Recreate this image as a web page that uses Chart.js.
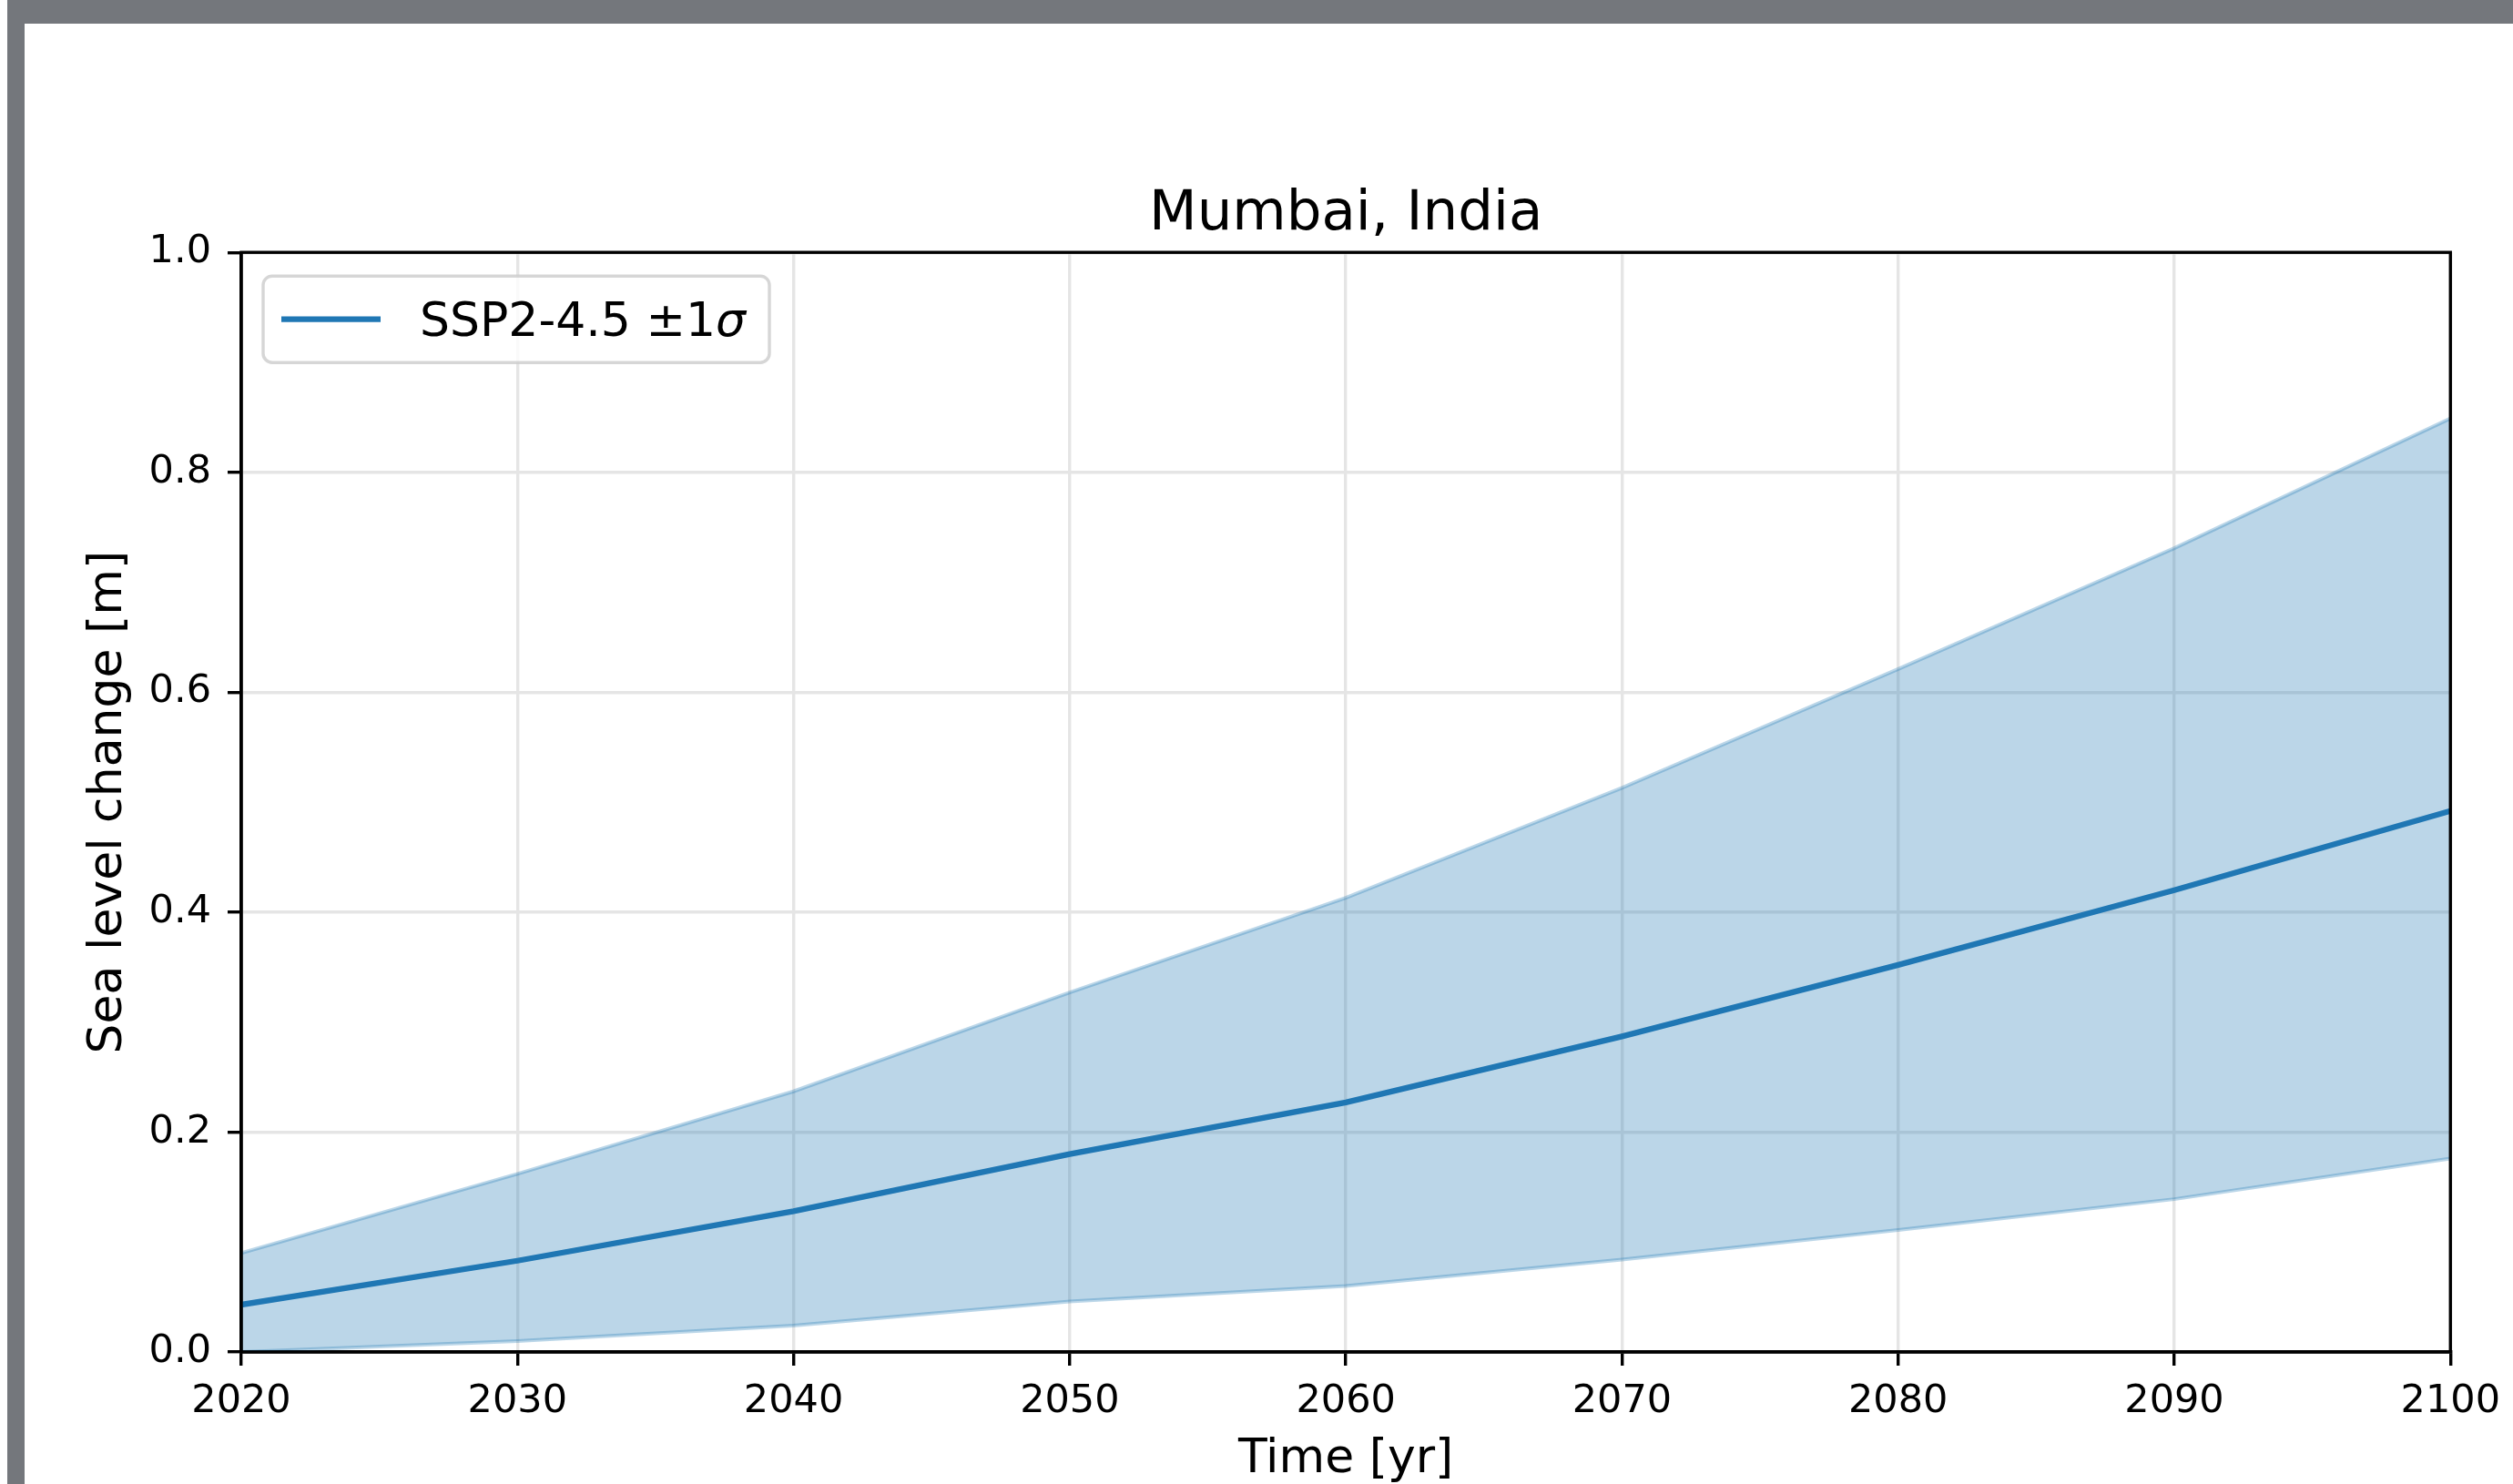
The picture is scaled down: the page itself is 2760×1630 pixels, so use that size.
<!DOCTYPE html>
<html lang="en">
  <head>
    <meta charset="utf-8" />
    <title>Mumbai, India - sea level change</title>
    <style>
      * {
        margin: 0;
        padding: 0;
      }
      body {
        width: 2760px;
        height: 1630px;
        background: #fff;
        overflow: hidden;
        position: relative;
      }
      .frameTop {
        position: absolute;
        left: 8px;
        top: 0;
        width: 2752px;
        height: 26px;
        background: #74777c;
      }
      .frameLeft {
        position: absolute;
        left: 8px;
        top: 0;
        width: 19px;
        height: 1630px;
        background: #74777c;
      }
      .chartBox {
        position: absolute;
        left: 0;
        top: 0;
        width: 2760px;
        height: 1630px;
      }
    </style>
  </head>
  <body>
    <div class="frameTop"></div>
    <div class="frameLeft"></div>
    <div class="chartBox">
      <canvas id="myChart"></canvas>
    </div>

    <script src="https://cdn.jsdelivr.net/npm/chart.js"></script>
    <script>
      // data block
      const years = [2020, 2030, 2040, 2050, 2060, 2070, 2080, 2090, 2100];
      const median = [0.043, 0.083, 0.128, 0.180, 0.227, 0.287, 0.352, 0.420, 0.492];
      const upper = [0.090, 0.162, 0.237, 0.327, 0.413, 0.513, 0.621, 0.731, 0.849];
      const lower = [0.000, 0.010, 0.024, 0.046, 0.060, 0.084, 0.111, 0.139, 0.176];
      const seriesLabel = "SSP2-4.5 ±1σ";

      const blue = "#1f77b4";
      const blueBand = "rgba(31, 119, 180, 0.3)";
      const font = "'DejaVu Sans', sans-serif";

      const toPoints = (vals) => years.map((x, i) => ({ x: x, y: vals[i] }));

      // frame round the plot area (top + right sides too)
      const axesFrame = {
        id: "axesFrame",
        afterDatasetsDraw(chart) {
          const { ctx, chartArea } = chart;
          ctx.save();
          ctx.strokeStyle = "#000";
          ctx.lineWidth = 3.4;
          ctx.strokeRect(
            chartArea.left,
            chartArea.top,
            chartArea.right - chartArea.left,
            chartArea.bottom - chartArea.top
          );
          ctx.restore();
        },
      };

      // matplotlib style legend box, top-left inside the axes
      const boxLegend = {
        id: "boxLegend",
        afterDraw(chart) {
          const { ctx, chartArea } = chart;
          const ds = chart.data.datasets[0];
          const x = chartArea.left + 24;
          const y = chartArea.top + 26;
          const w = 556;
          const h = 95;
          const cy = y + h / 2;

          ctx.save();
          ctx.beginPath();
          ctx.roundRect(x, y, w, h, 10);
          ctx.fillStyle = "rgba(255, 255, 255, 0.8)";
          ctx.fill();
          ctx.lineWidth = 3.4;
          ctx.strokeStyle = "rgba(204, 204, 204, 0.8)";
          ctx.stroke();

          ctx.beginPath();
          ctx.moveTo(x + 20, cy);
          ctx.lineTo(x + 129, cy);
          ctx.strokeStyle = ds.borderColor;
          ctx.lineWidth = ds.borderWidth;
          ctx.stroke();

          const main = ds.label.slice(0, -1);
          const greek = ds.label.slice(-1);
          ctx.fillStyle = "#000";
          ctx.textBaseline = "alphabetic";
          ctx.font = "52px " + font;
          ctx.fillText(main, x + 172, cy + 18);
          const mw = ctx.measureText(main).width;
          ctx.font = "italic 52px " + font;
          ctx.fillText(greek, x + 172 + mw, cy + 18);
          ctx.restore();
        },
      };

      const data = {
        datasets: [
          {
            label: seriesLabel,
            data: toPoints(median),
            borderColor: blue,
            borderWidth: 6.3,
            pointRadius: 0,
            fill: false,
          },
          {
            label: "upper",
            data: toPoints(upper),
            borderColor: blueBand,
            backgroundColor: blueBand,
            borderWidth: 4,
            pointRadius: 0,
            fill: "+1",
          },
          {
            label: "lower",
            data: toPoints(lower),
            borderColor: blueBand,
            borderWidth: 4,
            pointRadius: 0,
            fill: false,
          },
        ],
      };

      const config = {
        type: "line",
        data: data,
        options: {
          responsive: true,
          maintainAspectRatio: false,
          animation: false,
          layout: {
            padding: { left: 20, right: 67, top: 0, bottom: 0 },
          },
          plugins: {
            legend: { display: false },
            tooltip: { enabled: false },
            filler: { drawTime: "beforeDatasetsDraw" },
            title: {
              display: true,
              text: "Mumbai, India",
              fullSize: false,
              color: "#000",
              font: { family: font, size: 61, weight: "normal" },
              padding: { top: 200, bottom: 4 },
            },
          },
          scales: {
            x: {
              type: "linear",
              min: 2020,
              max: 2100,
              afterFit: (scale) => {
                scale.height = 145;
              },
              ticks: {
                stepSize: 10,
                color: "#000",
                font: { family: font, size: 43 },
                padding: 14,
                maxRotation: 0,
                callback: (v) => String(v),
              },
              grid: {
                color: "#e5e5e5",
                lineWidth: 3.4,
                tickColor: "#000",
                tickWidth: 3.4,
                tickLength: 15,
              },
              border: { color: "#000", width: 3.4 },
              title: {
                display: true,
                text: "Time [yr]",
                color: "#000",
                font: { family: font, size: 52 },
                padding: { top: 0, bottom: -5 },
              },
            },
            y: {
              min: 0,
              max: 1,
              afterFit: (scale) => {
                scale.width = 245;
              },
              ticks: {
                stepSize: 0.2,
                color: "#000",
                font: { family: font, size: 43 },
                padding: 18,
                callback: (v) => v.toFixed(1),
              },
              grid: {
                color: "#e5e5e5",
                lineWidth: 3.4,
                tickColor: "#000",
                tickWidth: 3.4,
                tickLength: 15,
              },
              border: { color: "#000", width: 3.4 },
              title: {
                display: true,
                text: "Sea level change [m]",
                color: "#000",
                font: { family: font, size: 52 },
                padding: { top: 68, bottom: 0 },
              },
            },
          },
        },
        plugins: [axesFrame, boxLegend],
      };

      // init render block
      const myChart = new Chart(document.getElementById("myChart"), config);
    </script>
  </body>
</html>
